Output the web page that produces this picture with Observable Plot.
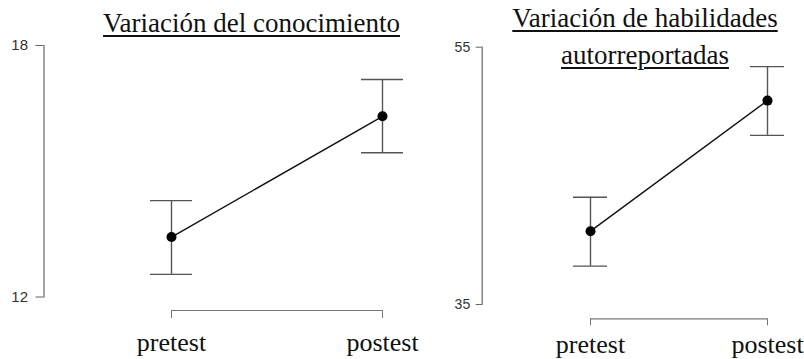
<!DOCTYPE html>
<html>
<head>
<meta charset="utf-8">
<script src="https://cdn.jsdelivr.net/npm/d3@7"></script>
<script src="https://cdn.jsdelivr.net/npm/@observablehq/plot@0.6"></script>
<style>
  html, body { margin: 0; padding: 0; background: #fff; }
  #wrap { position: relative; width: 804px; height: 359px; overflow: hidden; }
  .panel { position: absolute; top: 0; }
  .title { position: absolute; font-family: "Liberation Serif", "Times New Roman", Times, Tinos, "DejaVu Serif", serif; font-size: 27px; color: #111; text-decoration: underline; text-decoration-thickness: 1.5px; text-underline-offset: 3px; text-align: center; white-space: nowrap; }
</style>
</head>
<body>
<div id="wrap"></div>
<script>
const categories = ["pretest", "postest"];

const knowledgeTitle = ["Variación del conocimiento"];
const knowledgeTicks = [12, 18];
const knowledgeMean = [13.43, 16.31];
const knowledgeLow = [12.54, 15.44];
const knowledgeHigh = [14.30, 17.19];

const skillsTitle = ["Variación de habilidades", "autorreportadas"];
const skillsTicks = [35, 55];
const skillsMean = [40.70, 50.85];
const skillsLow = [37.98, 48.15];
const skillsHigh = [43.34, 53.49];

const SERIF = "'Liberation Serif', 'Times New Roman', Times, Tinos, 'DejaVu Serif', serif";
const SANS = "'Liberation Sans', Arial, Helvetica, sans-serif";

function panel(cfg) {
  const data = categories.map((c, i) => ({cat: c, mean: cfg.mean[i], lo: cfg.low[i], hi: cfg.high[i]}));
  const bracket = [{y: cfg.ticks[0], a: categories[0], b: categories[categories.length - 1]}];
  return Plot.plot({
    width: cfg.width,
    height: 359,
    marginTop: cfg.marginTop,
    marginBottom: cfg.marginBottom,
    marginLeft: cfg.marginLeft,
    marginRight: 0,
    style: {background: "transparent", fontFamily: SANS, overflow: "visible"},
    x: {type: "point", domain: categories, range: cfg.xRange, padding: 0},
    y: {domain: [cfg.ticks[0], cfg.ticks[1]]},
    marks: [
      Plot.frame({anchor: "left", stroke: "#666", strokeWidth: 1.2}),
      Plot.axisY(cfg.ticks, {label: null, tickSize: cfg.yTickSize, tickPadding: cfg.yTickPadding, fontSize: cfg.yFont, fontFamily: SANS, stroke: "#666", fill: "#333"}),
      Plot.ruleY(bracket, {y: "y", x1: "a", x2: "b", dy: cfg.xOffset, stroke: "#777", strokeWidth: 1.2}),
      Plot.axisX({label: null, tickSize: cfg.xTickSize, tickPadding: cfg.xTickPadding, dy: cfg.xOffset, fontSize: 26, fontFamily: SERIF, stroke: "#777", fill: "#111"}),
      Plot.ruleX(data, {x: "cat", y1: "lo", y2: "hi", stroke: "#555", strokeWidth: 1.4}),
      Plot.ruleY(data, {y: "lo", x1: "cat", x2: "cat", stroke: "#555", strokeWidth: 1.4, insetLeft: -cfg.cap, insetRight: -cfg.cap}),
      Plot.ruleY(data, {y: "hi", x1: "cat", x2: "cat", stroke: "#555", strokeWidth: 1.4, insetLeft: -cfg.cap, insetRight: -cfg.cap}),
      Plot.line(data, {x: "cat", y: "mean", stroke: "#111", strokeWidth: 1.4}),
      Plot.dot(data, {x: "cat", y: "mean", r: 5, fill: "#000", stroke: "none"})
    ]
  });
}

const wrap = document.getElementById("wrap");

const left = panel({
  width: 420, marginTop: 45, marginBottom: 62.5, marginLeft: 43.5,
  xRange: [170.7, 382.3], ticks: knowledgeTicks,
  mean: knowledgeMean, low: knowledgeLow, high: knowledgeHigh,
  yTickSize: 8, yTickPadding: 8, yFont: 15,
  xOffset: 13.5, xTickSize: 8, xTickPadding: 14, cap: 21
});
left.classList.add("panel");
left.style.left = "0px";
wrap.appendChild(left);

const right = panel({
  width: 384, marginTop: 46.7, marginBottom: 55, marginLeft: 61.7,
  xRange: [169.3, 346.7], ticks: skillsTicks,
  mean: skillsMean, low: skillsLow, high: skillsHigh,
  yTickSize: 6, yTickPadding: 6, yFont: 14,
  xOffset: 14.3, xTickSize: 7, xTickPadding: 9, cap: 17
});
right.classList.add("panel");
right.style.left = "420px";
wrap.appendChild(right);

function addTitle(lines, centerX, top, lineHeight) {
  lines.forEach((t, i) => {
    const d = document.createElement("div");
    d.className = "title";
    d.textContent = t;
    d.style.lineHeight = lineHeight + "px";
    d.style.top = (top + i * lineHeight) + "px";
    d.style.left = (centerX - 300) + "px";
    d.style.width = "600px";
    wrap.appendChild(d);
  });
}
addTitle(knowledgeTitle, 251.5, 10, 26);
addTitle(skillsTitle, 645, 0, 37);
</script>
</body>
</html>
